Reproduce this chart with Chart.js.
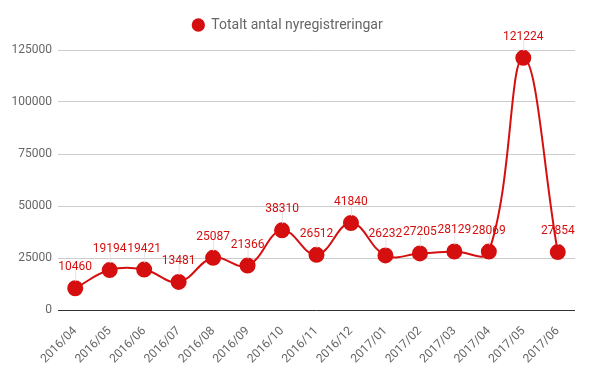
<!DOCTYPE html>
<html><head><meta charset="utf-8">
<script src="https://cdn.jsdelivr.net/npm/chart.js@4/dist/chart.umd.min.js"></script>
<style>html,body{margin:0;padding:0;background:#fff}#wrap{width:593px;height:371px}</style>
</head><body><div id="wrap"><canvas id="c"></canvas></div>
<script>
const categories = ["2016/04","2016/05","2016/06","2016/07","2016/08","2016/09","2016/10","2016/11","2016/12","2017/01","2017/02","2017/03","2017/04","2017/05","2017/06"];
const registrations = [10460,19194,19421,13481,25087,21366,38310,26512,41840,26232,27205,28129,28069,121224,27854];
const yTicks = [0,25000,50000,75000,100000,125000];
const seriesName = "Totalt antal nyregistreringar";
const RED = "#d50f0f";

const labelPlugin = {
  id: 'pointLabels',
  beforeInit(chart) {
    const lg = chart.legend;
    if (lg) {
      const fit = lg.fit;
      lg.fit = function () { fit.call(this); this.height += 8; };
    }
  },
  afterDatasetsDraw(chart) {
    const ctx = chart.ctx;
    const meta = chart.getDatasetMeta(0);
    ctx.save();
    ctx.font = "12px Roboto";
    ctx.textAlign = "center";
    ctx.textBaseline = "alphabetic";
    meta.data.forEach((pt, i) => {
      const x = pt.x, y = pt.y;
      ctx.strokeStyle = "#e4e4e4";
      ctx.lineWidth = 1;
      ctx.beginPath();
      ctx.moveTo(x + 0.5, y - 7);
      ctx.lineTo(x + 0.5, y - 18);
      ctx.stroke();
      ctx.fillStyle = RED;
      ctx.fillText(String(registrations[i]), x, y - 18);
    });
    ctx.restore();
  }
};

new Chart(document.getElementById('c'), {
  type: 'line',
  data: {
    labels: categories,
    datasets: [{
      label: seriesName,
      data: registrations,
      borderColor: RED,
      backgroundColor: RED,
      borderWidth: 2,
      pointRadius: 7,
      pointHoverRadius: 7,
      pointBackgroundColor: RED,
      pointBorderColor: RED,
      tension: 0.4,
      clip: false
    }]
  },
  options: {
    responsive: true,
    maintainAspectRatio: false,
    animation: false,
    events: [],
    layout: { padding: { top: 8, right: 18, left: 0, bottom: 0 } },
    plugins: {
      legend: {
        position: 'top',
        labels: {
          usePointStyle: true, pointStyle: 'circle', boxWidth: 12, boxHeight: 8,
          color: '#666', font: { family: 'Roboto', size: 14 }, padding: 10
        }
      },
      tooltip: { enabled: false }
    },
    scales: {
      x: {
        offset: true,
        grid: { display: false },
        border: { display: false },
        ticks: { color: '#666', font: { family: 'Roboto', size: 12 }, minRotation: 45, maxRotation: 45, autoSkip: false, padding: 6 },
        afterFit(s) { s.height = 61; }
      },
      y: {
        min: 0, max: 125000,
        afterBuildTicks(s) { s.ticks = yTicks.map(v => ({ value: v })); },
        grid: { color: c => (c.tick && c.tick.value === 0) ? '#333' : '#ccc', drawTicks: false, lineWidth: 1 },
        border: { display: false },
        ticks: { color: '#666', font: { family: 'Roboto', size: 12 }, padding: 6, callback: v => String(v) },
        afterFit(s) { s.width = 58; }
      }
    }
  },
  plugins: [labelPlugin]
});
</script>
</body></html>
